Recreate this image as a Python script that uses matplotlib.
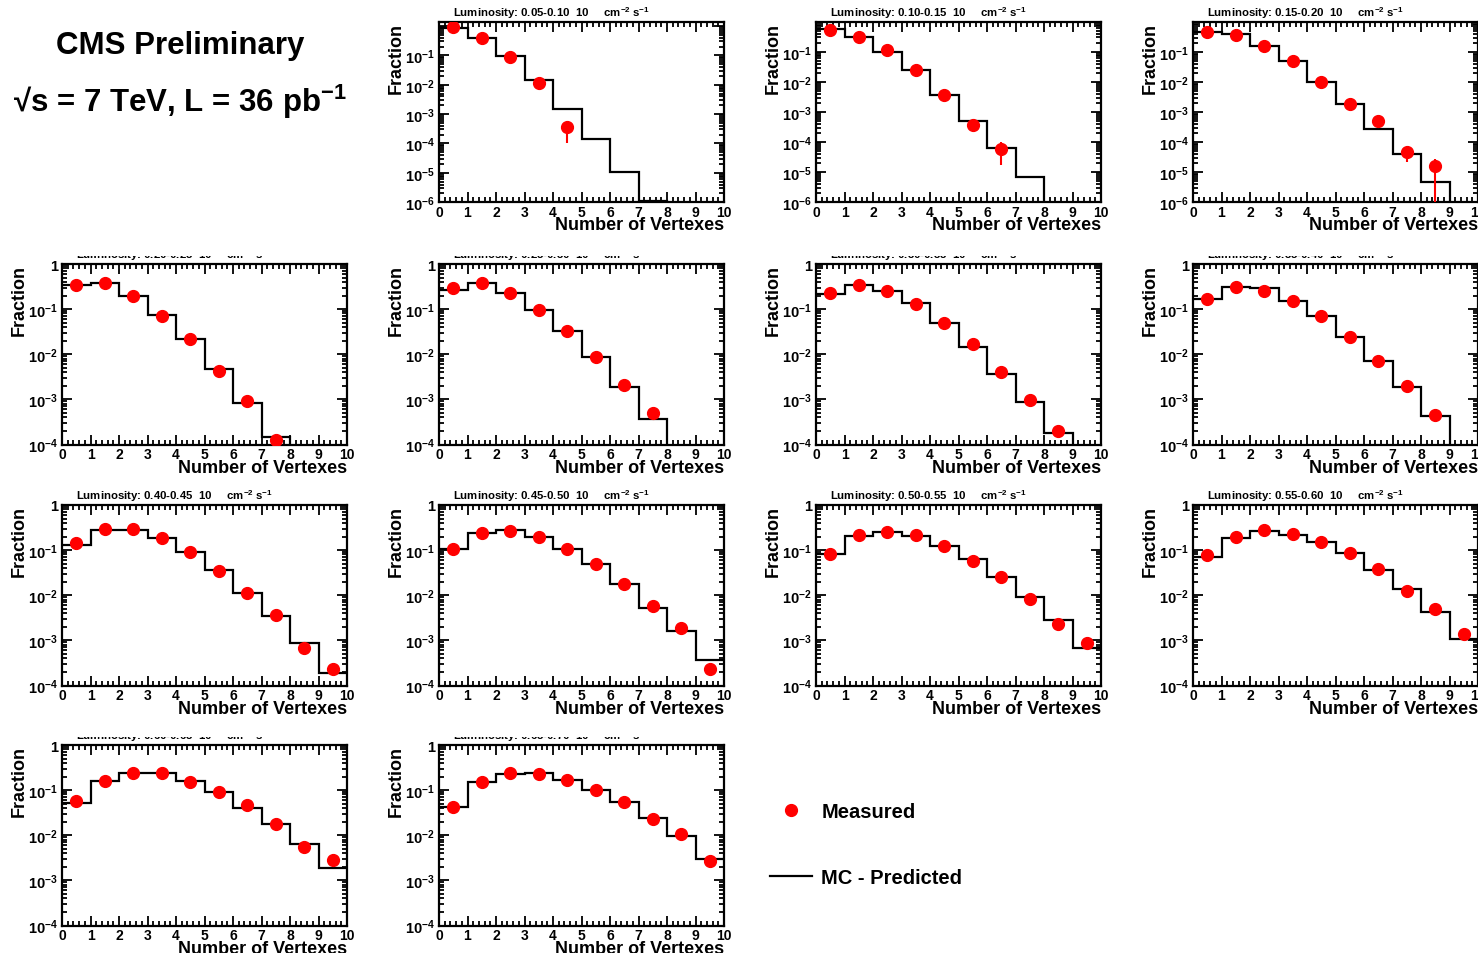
import numpy as np
import matplotlib
matplotlib.use('Agg')
import matplotlib.pyplot as plt
from matplotlib import ticker
from matplotlib.lines import Line2D
from matplotlib.transforms import Bbox, TransformedBbox

plt.rcParams['font.family'] = ['Liberation Sans', 'DejaVu Sans']
plt.rcParams['font.weight'] = 'bold'
plt.rcParams['axes.labelweight'] = 'bold'
plt.rcParams['mathtext.fontset'] = 'custom'
plt.rcParams['mathtext.rm'] = 'Liberation Sans:bold'
plt.rcParams['mathtext.it'] = 'Liberation Sans:bold'
plt.rcParams['mathtext.bf'] = 'Liberation Sans:bold'
plt.rcParams['mathtext.default'] = 'bf'

# bins of the number of reconstructed vertexes
vertex_edges = np.arange(0, 11)
vertex_centers = vertex_edges[:-1] + 0.5
nan = np.nan

# luminosity ranges (10^32 cm^-2 s^-1)
lumi_ranges = ['0.05-0.10', '0.10-0.15', '0.15-0.20', '0.20-0.25', '0.25-0.30',
               '0.30-0.35', '0.35-0.40', '0.40-0.45', '0.45-0.50', '0.50-0.55',
               '0.55-0.60', '0.60-0.65', '0.65-0.70']

meas_005_010 = [0.93, 0.38, 0.09, 0.0118, 3.6e-4, nan, nan, nan, nan, nan]
mc_005_010 = [0.84, 0.39, 0.094, 0.0145, 1.45e-3, 1.4e-4, 1.1e-5, 1.1e-6, 0, 0]

meas_010_015 = [0.53, 0.32, 0.114, 0.024, 3.8e-3, 3.6e-4, 6.0e-5, nan, nan, nan]
mc_010_015 = [0.555, 0.31, 0.10, 0.0245, 3.7e-3, 4.9e-4, 6.3e-5, 6.8e-6, 0, 0]

meas_015_020 = [0.46, 0.39, 0.158, 0.05, 0.010, 1.9e-3, 5.3e-4, 4.6e-5, 1.67e-5, nan]
mc_015_020 = [0.46, 0.41, 0.158, 0.05, 0.0105, 1.88e-3, 2.8e-4, 4.0e-5, 4.9e-6, 0]

meas_020_025 = [0.34, 0.37, 0.20, 0.071, 0.0217, 4.2e-3, 9.4e-4, 1.25e-4, nan, nan]
mc_020_025 = [0.343, 0.374, 0.20, 0.075, 0.022, 4.8e-3, 8.3e-4, 1.5e-4, 0, 0]

meas_025_030 = [0.287, 0.37, 0.23, 0.097, 0.0325, 8.9e-3, 2.1e-3, 4.9e-4, nan, nan]
mc_025_030 = [0.263, 0.37, 0.233, 0.097, 0.0325, 8.9e-3, 1.9e-3, 3.6e-4, 0, 0]

meas_030_035 = [0.223, 0.34, 0.255, 0.129, 0.05, 0.0167, 4.1e-3, 9.9e-4, 2.0e-4, nan]
mc_030_035 = [0.215, 0.34, 0.255, 0.134, 0.05, 0.0145, 3.7e-3, 8.8e-4, 1.83e-4, 0]

meas_035_040 = [0.168, 0.305, 0.257, 0.155, 0.072, 0.024, 7.0e-3, 2.0e-3, 4.6e-4, nan]
mc_035_040 = [0.168, 0.315, 0.29, 0.155, 0.072, 0.024, 7.0e-3, 1.87e-3, 4.3e-4, 0]

meas_040_045 = [0.147, 0.29, 0.29, 0.19, 0.093, 0.035, 0.0115, 3.6e-3, 6.8e-4, 2.3e-4]
mc_040_045 = [0.13, 0.28, 0.28, 0.183, 0.093, 0.0366, 0.0115, 3.4e-3, 8.8e-4, 1.94e-4]

meas_045_050 = [0.105, 0.235, 0.27, 0.198, 0.105, 0.049, 0.0176, 5.8e-3, 1.9e-3, 2.3e-4]
mc_045_050 = [0.105, 0.235, 0.278, 0.198, 0.105, 0.05, 0.0176, 5.3e-3, 1.6e-3, 3.6e-4]

meas_050_055 = [0.083, 0.217, 0.248, 0.217, 0.126, 0.057, 0.0255, 8.1e-3, 2.3e-3, 8.6e-4]
mc_050_055 = [0.083, 0.21, 0.248, 0.21, 0.122, 0.065, 0.0248, 9.1e-3, 2.8e-3, 6.8e-4]

meas_055_060 = [0.078, 0.196, 0.28, 0.23, 0.152, 0.087, 0.038, 0.0126, 5.0e-3, 1.35e-3]
mc_055_060 = [0.072, 0.19, 0.26, 0.22, 0.15, 0.085, 0.037, 0.0135, 4.2e-3, 1.1e-3]

meas_060_065 = [0.058, 0.161, 0.238, 0.238, 0.153, 0.092, 0.046, 0.018, 5.6e-3, 2.9e-3]
mc_060_065 = [0.053, 0.161, 0.238, 0.238, 0.161, 0.092, 0.041, 0.0176, 6.3e-3, 1.86e-3]

meas_065_070 = [0.043, 0.152, 0.24, 0.23, 0.17, 0.10, 0.055, 0.023, 0.0108, 2.7e-3]
mc_065_070 = [0.042, 0.15, 0.23, 0.24, 0.165, 0.10, 0.055, 0.024, 0.0095, 3.0e-3]

# error bars that stick out of the markers: (panel, bin, low, high)
visible_errors = [(0, 4, 1.05e-4, 5.6e-4), (1, 6, 1.7e-5, 1.0e-4),
                  (2, 7, 2.2e-5, 7.0e-5), (2, 8, 1e-8, 2.8e-5),
                  (12, 9, 2.0e-3, 3.4e-3)]

measured = [meas_005_010, meas_010_015, meas_015_020, meas_020_025, meas_025_030,
            meas_030_035, meas_035_040, meas_040_045, meas_045_050, meas_050_055,
            meas_055_060, meas_060_065, meas_065_070]
predicted = [mc_005_010, mc_010_015, mc_015_020, mc_020_025, mc_025_030,
             mc_030_035, mc_035_040, mc_040_045, mc_045_050, mc_050_055,
             mc_055_060, mc_060_065, mc_065_070]

# layout in pixels of the 1478x954 canvas
W, H = 1478, 954
col_left = [62, 439, 816, 1193]
row_top = [22.7, 265, 506, 746]
pw, ph = 285, 180.5
top_row_ymax = [1.4, 1.0, 1.05]


def log_label(show_one):
    def fmt(val, pos):
        e = int(round(np.log10(val)))
        if e == 0:
            return '1' if show_one else ''
        return r'$10^{%d}$' % e
    return ticker.FuncFormatter(fmt)


fig = plt.figure(figsize=(W / 100, H / 100), dpi=100)

for i, (lumi, meas, mc) in enumerate(zip(lumi_ranges, measured, predicted)):
    cell = i + 1
    row, col = cell // 4, cell % 4
    ax = fig.add_axes([col_left[col] / W, 1 - (row_top[row] + ph) / H, pw / W, ph / H])

    mc = np.asarray(mc, dtype=float)
    ax.stairs(np.where(mc > 0, mc, 1e-12), vertex_edges, baseline=None,
              color='black', lw=1.6)
    ax.plot(vertex_centers, meas, 'o', color='red', ms=8.5, mec='red', zorder=3)
    for (p, b, lo, hi) in visible_errors:
        if p == i:
            ax.vlines(vertex_centers[b], lo, hi, color='red', lw=1.5, zorder=3)

    ax.set_yscale('log')
    ax.set_xlim(0, 10)
    if row == 0:
        ax.set_ylim(1e-6, top_row_ymax[col - 1])
    else:
        ax.set_ylim(1e-4, 1)

    ax.xaxis.set_major_locator(ticker.MultipleLocator(1))
    ax.xaxis.set_minor_locator(ticker.MultipleLocator(0.2))
    ax.yaxis.set_major_locator(ticker.LogLocator(base=10, numticks=12))
    ax.yaxis.set_minor_locator(ticker.LogLocator(base=10, subs=np.arange(2, 10), numticks=12))
    ax.yaxis.set_minor_formatter(ticker.NullFormatter())
    ax.yaxis.set_major_formatter(log_label(row != 0))

    ax.tick_params(which='both', direction='in', top=True, right=True, width=1.3)
    ax.tick_params(which='major', length=7)
    ax.tick_params(which='minor', length=3.5)
    ax.tick_params(axis='x', pad=2, labelsize=10)
    ax.tick_params(axis='y', pad=3, labelsize=10.5)
    for s in ax.spines.values():
        s.set_linewidth(1.6)

    ax.set_xlabel('Number of Vertexes', loc='right', fontsize=13)
    ax.xaxis.set_label_coords(1.0, -0.078)
    ax.set_ylabel('Fraction', loc='top', fontsize=13)
    ax.yaxis.set_label_coords(-0.12, 1.0)

    title = 'Luminosity: %s  10     cm$^{-2}$ s$^{-1}$' % lumi
    t = fig.text(0.05, 1.012, title, transform=ax.transAxes, fontsize=8.2,
                 ha='left', va='bottom')
    if row in (1, 3):
        # the pads above hide the top of these titles
        clip = TransformedBbox(Bbox.from_extents(0, 0, 1, 1 - (row_top[row] - 8) / H),
                               fig.transFigure)
        t.set_clip_box(clip)
        t.set_clip_on(True)

fig.text(180 / W, 1 - 46 / H, 'CMS Preliminary', ha='center', va='center', fontsize=22.5)
fig.text(180 / W, 1 - 102 / H, '\u221as = 7 TeV, L = 36 pb$^{-1}$',
         ha='center', va='center', fontsize=22.5)

h_meas = Line2D([], [], ls='none', marker='o', color='red', ms=8.5)
h_mc = Line2D([], [], color='black', lw=1.6)
fig.legend([h_meas, h_mc], ['Measured', 'MC - Predicted'], loc='upper left',
           bbox_to_anchor=(770 / W, 1 - 803 / H), frameon=False, fontsize=14.5,
           handlelength=2.1, handletextpad=0.45, labelspacing=2.35,
           borderpad=0, borderaxespad=0, numpoints=1)

fig.savefig('out.png', dpi=100)
